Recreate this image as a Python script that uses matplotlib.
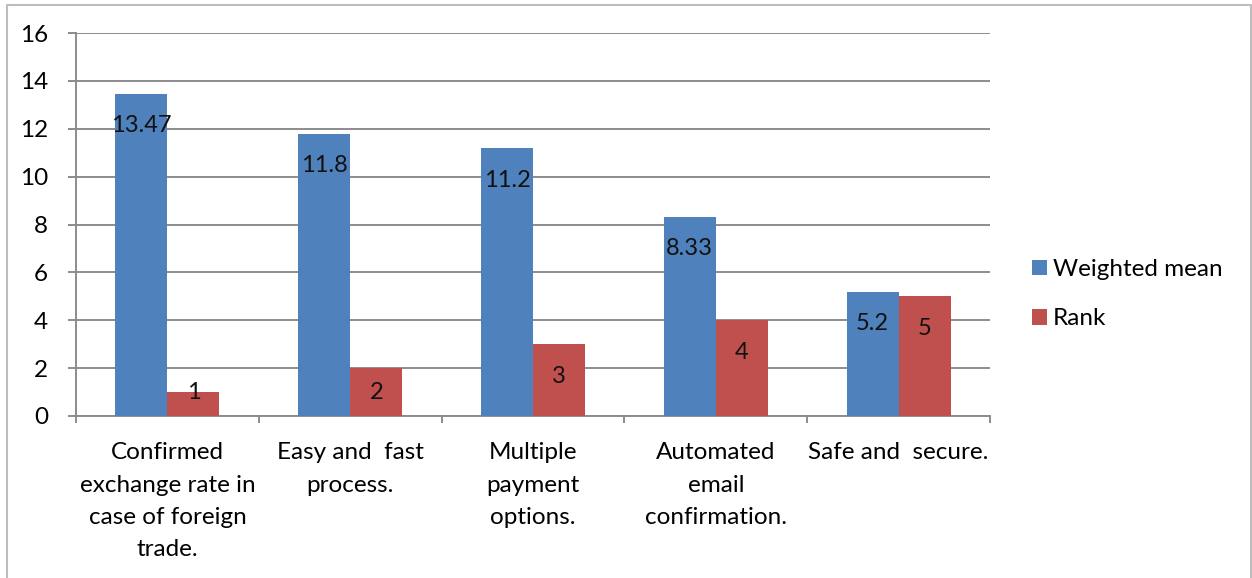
import matplotlib
matplotlib.use("Agg")
import matplotlib.pyplot as plt
from matplotlib.lines import Line2D
import numpy as np

plt.rcParams['font.family'] = ['Lato', 'DejaVu Sans']

categories = [
    "Confirmed\nexchange rate in\ncase of foreign\ntrade.",
    "Easy and  fast\nprocess.",
    "Multiple\npayment\noptions.",
    "Automated\nemail\nconfirmation.",
    "Safe and  secure.",
]
weighted_mean = [13.47, 11.8, 11.2, 8.33, 5.2]
rank = [1, 2, 3, 4, 5]
series_names = ["Weighted mean", "Rank"]
y_ticks = [0, 2, 4, 6, 8, 10, 12, 14, 16]

BLUE = "#4F81BD"
RED = "#C0504D"
GRID = "#8C8C8C"
FS = 17.5

W, H = 1252, 578
PX = 72 / 100  # points per pixel at 100 dpi
fig = plt.figure(figsize=(W / 100, H / 100), dpi=100)
ax = fig.add_axes([76 / W, 1 - 416 / H, (990 - 76) / W, (416 - 33) / H])

x = np.arange(len(categories))
bw = 0.285
b1 = ax.bar(x - bw / 2, weighted_mean, bw, color=BLUE, label=series_names[0], zorder=3)
b2 = ax.bar(x + bw / 2, rank, bw, color=RED, label=series_names[1], zorder=3)

# value labels sit just inside the top of each bar
for bars, vals in ((b1, weighted_mean), (b2, rank)):
    for rect, v in zip(bars, vals):
        ly = max(v - 1.35, 1.0)
        ax.text(rect.get_x() + rect.get_width() / 2, ly, f"{v:g}",
                ha="center", va="center", fontsize=17, color="#111111", zorder=4)

ax.set_xlim(-0.5, len(categories) - 0.5)
ax.set_ylim(0, 16)
ax.set_yticks(y_ticks)
ax.set_yticklabels([str(t) for t in y_ticks], fontsize=FS)
ax.yaxis.grid(True, color=GRID, linewidth=1.4, zorder=0)
ax.set_axisbelow(True)

ax.set_xticks(x)
ax.set_xticklabels(categories, fontsize=FS, linespacing=1.66, va="top")
ax.set_xticks(np.arange(len(categories) + 1) - 0.5, minor=True)
ax.tick_params(axis="x", which="major", length=0, pad=18 * PX + 6)
ax.tick_params(axis="x", which="minor", length=7 * PX, width=1.4, color=GRID, direction="out")
ax.tick_params(axis="y", length=8 * PX, width=1.4, color=GRID, pad=20 * PX)

for s in ("top", "right"):
    ax.spines[s].set_visible(False)
for s in ("left", "bottom"):
    ax.spines[s].set_color(GRID)
    ax.spines[s].set_linewidth(1.4)

leg = fig.legend(handles=[b1, b2], labels=series_names, loc="upper left",
                 bbox_to_anchor=(1032 / W, 1 - 259 / H), frameon=False,
                 fontsize=FS, handlelength=0.6, handleheight=0.6,
                 handletextpad=0.25, labelspacing=1.17,
                 borderpad=0, borderaxespad=0)

# outer chart border (left, top, right)
fig.add_artist(Line2D([7 / W, 7 / W, 1251 / W, 1251 / W],
                      [0, 1 - 5 / H, 1 - 5 / H, 0],
                      transform=fig.transFigure, color="#BDBDBD", linewidth=1.5))

fig.savefig("out.png", dpi=100)
